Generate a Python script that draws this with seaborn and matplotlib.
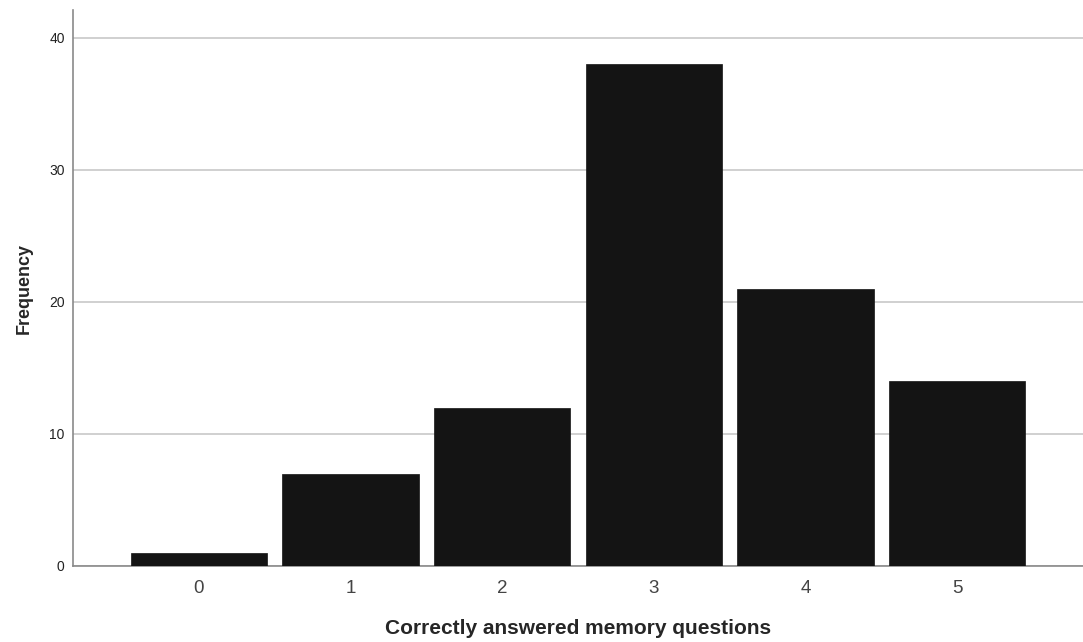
import numpy as np
import pandas as pd
import matplotlib.pyplot as plt
import seaborn as sb

# Frequency of correct answers
scores = ["0", "1", "2", "3", "4", "5"]
counts = [1, 7, 12, 38, 21, 14]

df = pd.DataFrame({"score": scores, "count": counts})

sb.set_style("white")
plt.rcParams['font.family'] = ['Liberation Sans', 'DejaVu Sans']

fig = plt.figure(figsize=(10.83, 6.42), dpi=100)
ax = fig.add_axes([0.0674, 0.1184, 0.9326, 0.866])

sb.barplot(data=df, x="score", y="count", color="#141414", width=0.9,
           saturation=1, edgecolor="#141414", linewidth=0.5, ax=ax, zorder=3)

ax.set_xlim(-0.83, 5.83)
ax.set_ylim(0, 42.1)
ax.set_yticks([0, 10, 20, 30, 40])
ax.yaxis.grid(True, color="#c8c8c8", linewidth=1.2, zorder=0)
ax.set_axisbelow(True)

for side in ["top", "right"]:
    ax.spines[side].set_visible(False)
for side in ["left", "bottom"]:
    ax.spines[side].set_color("#8a8a8a")
    ax.spines[side].set_linewidth(1.2)

ax.tick_params(axis="y", length=0, labelsize=10, pad=6, labelcolor="#222222")
ax.tick_params(axis="x", length=0, labelsize=13.5, pad=10, labelcolor="#444444")

ax.set_xlabel("Correctly answered memory questions", fontsize=15, fontweight="bold", labelpad=16)
ax.set_ylabel("Frequency", fontsize=13, fontweight="bold", labelpad=12)

fig.savefig("out.png", dpi=100)
